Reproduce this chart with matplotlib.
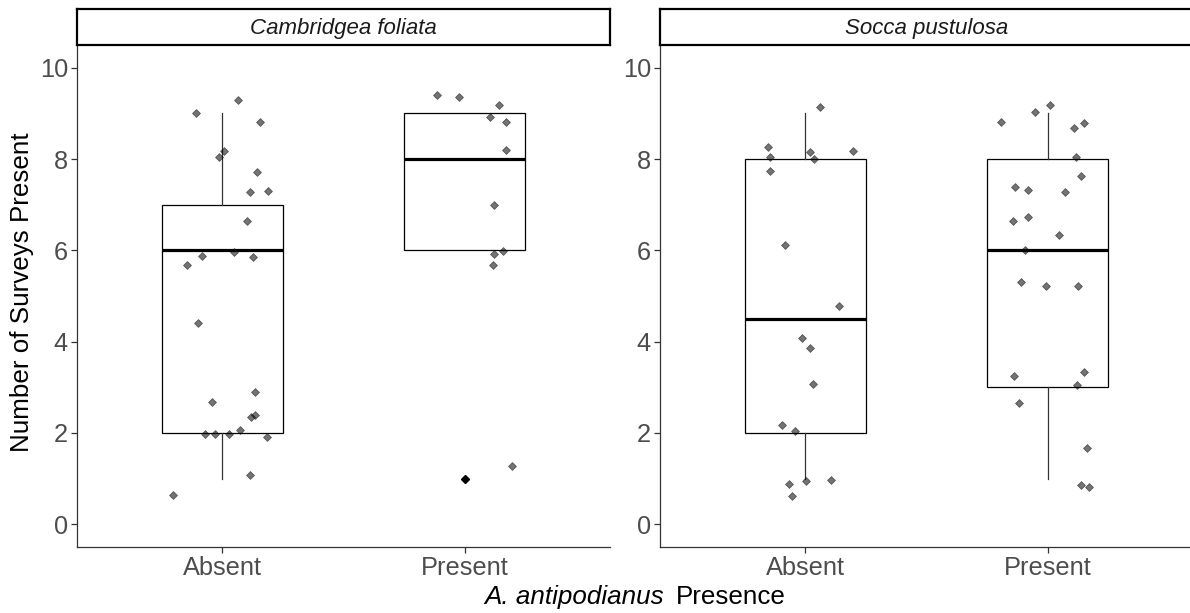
import matplotlib
matplotlib.use('Agg')
import matplotlib.pyplot as plt

plt.rcParams['font.family'] = ['Liberation Sans', 'DejaVu Sans']

species = ['Cambridgea foliata', 'Socca pustulosa']
categories = ['Absent', 'Present']

# box statistics per species / category: q1, median, q3, whisker low, whisker high, outliers
box_q1 = [[2, 6], [2, 3]]
box_med = [[6, 8], [4.5, 6]]
box_q3 = [[7, 9], [8, 8]]
box_lo = [[1, 6], [1, 1]]
box_hi = [[9, 9], [9, 9]]
box_out = [[[], [1]], [[], []]]

# jittered points (y values and horizontal jitter)
cf_absent_y = [9.30, 9.00, 8.82, 8.18, 8.04, 7.72, 7.27, 7.30, 6.65, 5.88, 5.96, 5.85, 5.67,
               4.41, 2.89, 2.67, 2.35, 2.39, 1.98, 1.98, 1.98, 2.07, 1.90, 1.08, 0.64]
cf_absent_dx = [0.065, -0.110, 0.156, 0.007, -0.015, 0.145, 0.116, 0.190, 0.103, -0.083, 0.050,
                0.128, -0.145, -0.099, 0.136, -0.041, 0.120, 0.136, -0.070, -0.029, 0.029,
                0.074, 0.186, 0.116, -0.202]
cf_present_y = [9.41, 9.35, 9.19, 8.92, 8.82, 8.21, 7.00, 5.93, 5.99, 5.69, 1.28]
cf_present_dx = [-0.114, -0.025, 0.140, 0.103, 0.169, 0.169, 0.120, 0.120, 0.157, 0.116, 0.194]
sp_absent_y = [9.14, 8.26, 8.04, 8.15, 8.01, 8.18, 7.75, 6.12, 4.78, 4.07, 3.85, 3.08, 2.18,
               2.04, 0.95, 0.97, 0.89, 0.62]
sp_absent_dx = [0.061, -0.153, -0.145, 0.021, 0.037, 0.198, -0.145, -0.083, 0.140, -0.012,
                0.021, 0.033, -0.095, -0.041, 0.004, 0.107, -0.066, -0.054]
sp_present_y = [9.19, 9.03, 8.82, 8.79, 8.68, 8.04, 7.64, 7.38, 7.33, 7.27, 6.65, 6.74, 6.34,
                6.01, 5.30, 5.21, 5.21, 3.25, 3.34, 3.05, 2.66, 1.66, 0.86, 0.81]
sp_present_dx = [0.008, -0.054, -0.194, 0.149, 0.107, 0.116, 0.136, -0.136, -0.083, 0.070,
                 -0.145, -0.083, 0.045, -0.095, -0.112, -0.008, 0.124, -0.140, 0.149, 0.120,
                 -0.120, 0.161, 0.136, 0.169]

points_y = [[cf_absent_y, cf_present_y], [sp_absent_y, sp_present_y]]
points_dx = [[cf_absent_dx, cf_present_dx], [sp_absent_dx, sp_present_dx]]

W, H = 1190, 613
fig = plt.figure(figsize=(W / 100, H / 100), dpi=100)

panel_left = [77, 660]
panel_w = 533
panel_top, panel_bottom = 45, 547
grey = '#4D4D4D'
line = '#333333'

for i, sp in enumerate(species):
    x0 = panel_left[i]
    ax = fig.add_axes([x0 / W, (H - panel_bottom) / H, panel_w / W, (panel_bottom - panel_top) / H])
    stats = []
    for j in range(2):
        stats.append(dict(q1=box_q1[i][j], med=box_med[i][j], q3=box_q3[i][j],
                          whislo=box_lo[i][j], whishi=box_hi[i][j], fliers=box_out[i][j]))
    ax.bxp(stats, positions=[1, 2], widths=0.5, showcaps=False, patch_artist=True,
           boxprops=dict(facecolor='white', edgecolor='black', linewidth=0.9),
           medianprops=dict(color='black', linewidth=2.3, solid_capstyle='butt'),
           whiskerprops=dict(color=line, linewidth=0.9),
           flierprops=dict(marker='D', markersize=4.2, markerfacecolor='black',
                           markeredgecolor='black'), zorder=1)
    for j in range(2):
        xs = [j + 1 + d for d in points_dx[i][j]]
        ax.plot(xs, points_y[i][j], 'D', color='black', alpha=0.55, markersize=4.2,
                markeredgewidth=0.5, zorder=3)
    ax.set_xlim(0.4, 2.6)
    ax.set_ylim(-0.5, 10.5)
    ax.set_xticks([1, 2])
    ax.set_xticklabels(categories)
    ax.set_yticks([0, 2, 4, 6, 8, 10])
    for s in ['top', 'right']:
        ax.spines[s].set_visible(False)
    for s in ['left', 'bottom']:
        ax.spines[s].set_color(line)
        ax.spines[s].set_linewidth(0.9)
    ax.tick_params(colors=line, labelcolor=grey, labelsize=18.3, length=4, width=0.9, pad=2.5)

    # facet strip
    sax = fig.add_axes([x0 / W, (H - panel_top) / H, panel_w / W, 36 / H])
    sax.set_xticks([])
    sax.set_yticks([])
    for s in sax.spines.values():
        s.set_linewidth(1.6)
        s.set_color('black')
    sax.text(0.5, 0.47, sp, transform=sax.transAxes, ha='center', va='center',
             style='italic', fontsize=16, color='#1A1A1A')

fig.text(22 / W, 1 - 292 / H, 'Number of Surveys Present', rotation=90, ha='center',
         va='center', fontsize=18.7, color='black')
fig.text(664 / W, 1 - 597 / H, 'A. antipodianus', style='italic', ha='right', va='center',
         fontsize=18.7, color='black')
fig.text(676 / W, 1 - 597 / H, 'Presence', ha='left', va='center', fontsize=18.7, color='black')

fig.savefig('out.png', dpi=100)
